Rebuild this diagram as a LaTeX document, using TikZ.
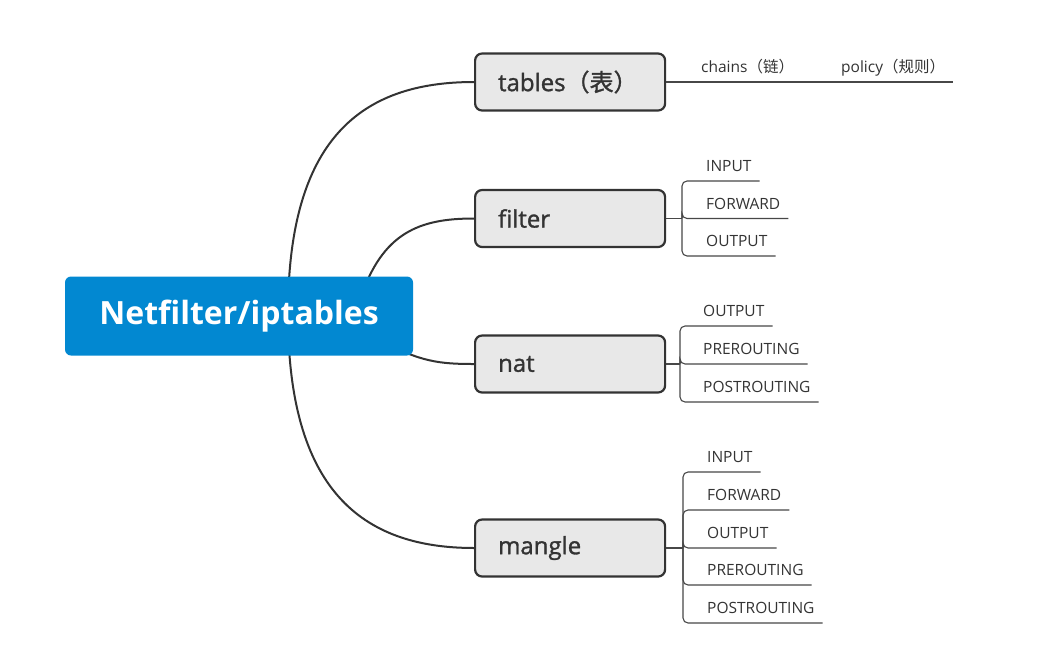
\documentclass[tikz,border=0pt]{standalone}
\usepackage{fontspec}
\setmainfont{Open Sans}
\newfontfamily\boxfont[FakeBold=1.3]{Open Sans}
\newfontfamily\cjk{Noto Sans CJK SC}
\newfontfamily\cjkbold[FakeBold=1.3]{Noto Sans CJK SC}
\usetikzlibrary{backgrounds}
\definecolor{mainblue}{HTML}{0288D1}
\definecolor{boxgray}{HTML}{E8E8E8}
\definecolor{ink}{HTML}{333333}
\begin{document}
\begin{tikzpicture}[x=1pt,y=-1pt,
    root/.style={fill=mainblue,rounded corners=6pt,text=white,
      font=\fontsize{32}{38}\selectfont\bfseries,minimum width=348pt,minimum height=79pt},
    tablebox/.style={draw=ink,line width=2.2pt,fill=boxgray,rounded corners=7pt,text=ink,
      font=\fontsize{24}{28}\boxfont,text width=144pt,align=left,inner xsep=23pt,
      minimum height=57pt,anchor=west},
    leaf/.style={font=\fontsize{15.5}{18}\selectfont,text=ink,inner xsep=8pt,inner ysep=9pt,
      text height=10pt,text depth=0pt,anchor=south west},
    trunk/.style={draw=ink,line width=2pt},
    branch/.style={draw=ink!90,line width=1.1pt}]
  \useasboundingbox (0,0) rectangle (1038,664);
  \node[root] (nf) at (239,316) {Netfilter/iptables};
  \node[tablebox] (tables) at (474,82) {tables{\cjkbold（表）}};
  \node[tablebox] (filter) at (474,218.5) {filter};
  \node[tablebox] (nat) at (474,364) {nat};
  \node[tablebox] (mangle) at (474,548) {mangle};
  \begin{scope}[on background layer]
    \draw[trunk] (288,314) .. controls (288,140) and (360,82) .. (tables.west);
    \draw[trunk] (360,300) .. controls (382,232) and (420,218.5) .. (filter.west);
    \draw[trunk] (380,340) .. controls (420,362) and (440,364) .. (nat.west);
    \draw[trunk] (288,314) .. controls (288,488) and (360,548) .. (mangle.west);
  \end{scope}
  % tables
  \node[leaf] (chains) at (693,82) {chains{\cjk（链）}};
  \node[leaf] (policy) at (833,82) {policy{\cjk（规则）}};
  \draw[branch] (tables.east) -- (chains.south west) -- (chains.south east)
    -- (policy.south west) -- (policy.south east);
  % filter
  \coordinate (fj) at (682,218.5);
  \draw[branch] (filter.east) -- (fj);
  \node[leaf] (fin) at (698,181) {INPUT};
  \node[leaf] (ffwd) at (698,218.5) {FORWARD};
  \node[leaf] (fout) at (698,256) {OUTPUT};
  \foreach \n in {fin,ffwd,fout}
    \draw[branch,rounded corners=5pt] (fj) |- (\n.south east);
  % nat
  \coordinate (nj) at (680,364);
  \draw[branch] (nat.east) -- (nj);
  \node[leaf] (nout) at (695,326) {OUTPUT};
  \node[leaf] (npre) at (695,364) {PREROUTING};
  \node[leaf] (npost) at (695,402) {POSTROUTING};
  \foreach \n in {nout,npre,npost}
    \draw[branch,rounded corners=5pt] (nj) |- (\n.south east);
  % mangle
  \coordinate (mj) at (683,548);
  \draw[branch] (mangle.east) -- (mj);
  \node[leaf] (min) at (699,472) {INPUT};
  \node[leaf] (mfwd) at (699,510) {FORWARD};
  \node[leaf] (mout) at (699,548) {OUTPUT};
  \node[leaf] (mpre) at (699,585) {PREROUTING};
  \node[leaf] (mpost) at (699,623) {POSTROUTING};
  \foreach \n in {min,mfwd,mout,mpre,mpost}
    \draw[branch,rounded corners=5pt] (mj) |- (\n.south east);
\end{tikzpicture}
\end{document}
